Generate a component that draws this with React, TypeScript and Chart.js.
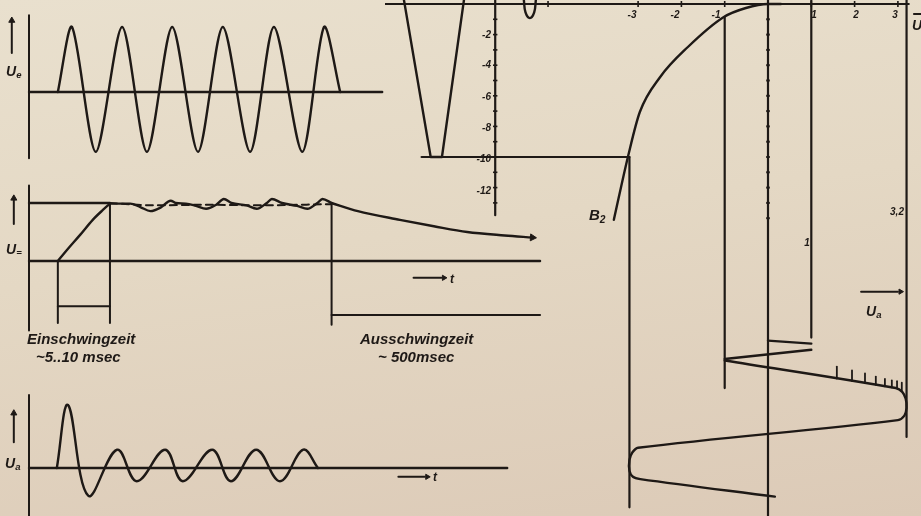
import React, { useEffect, useRef } from "react";
import { Chart, registerables } from "chart.js";

Chart.register(...registerables);

const INK = "#1e1916";

// ---------- Panel 1: input signal U_e (x: time in input periods, y: relative amplitude)
const ueT = [0.57, 0.85, 1.32, 1.84, 2.33, 2.83, 3.34, 3.83, 4.37, 4.84, 5.4, 5.83, 6.15];
const ueV = [0, 1, -0.92, 1, -0.92, 1, -0.92, 1, -0.92, 1, -0.92, 1, 0];
const ueBaseEnd = 6.98;

// ---------- Panel 2: rectified control voltage U_=
const riseT = [0.57, 0.75, 1.01, 1.26, 1.46, 1.6];
const riseV = [0, 0.19, 0.45, 0.71, 0.88, 0.99];
const rippleT = [1.6, 2.0, 2.2, 2.4, 2.6, 2.8, 2.9, 3.1, 3.3, 3.5, 3.7, 3.85, 4.0, 4.3, 4.5, 4.7, 4.8, 5.0, 5.3, 5.5, 5.7, 5.8, 5.98];
const rippleV = [0.99, 0.99, 0.93, 0.86, 0.92, 1.04, 1.0, 0.99, 0.95, 0.9, 0.97, 1.07, 1.0, 0.96, 0.9, 1.0, 1.07, 1.0, 0.95, 0.9, 1.0, 1.07, 1.0];
const meanT = [1.6, 2.5, 3.5, 4.5, 5.98];
const meanV = [1.0, 0.96, 0.97, 0.96, 0.98];
const decayT = [5.98, 6.5, 7.33, 8.0, 8.66, 9.4, 9.95];
const decayV = [1.0, 0.86, 0.71, 0.6, 0.5, 0.44, 0.405];
const settleT = [0.57, 1.6]; // Einschwingzeit
const releaseT = [5.98, 10.1]; // Ausschwingzeit
const zBaseEnd = 10.1;

// ---------- Panel 3: output signal U_a
const uaT = [0.55, 0.77, 1.17, 1.74, 2.13, 2.69, 3.04, 3.62, 3.99, 4.49, 4.96, 5.42, 5.71];
const uaV = [0, 1, -0.44, 0.29, -0.21, 0.29, -0.21, 0.29, -0.21, 0.29, -0.21, 0.29, 0];
const aBaseEnd = 9.45;

// ---------- Right: characteristic (x: U_g / U_a, y: vertical scale)
const gTicksU = [-5.08, -3, -2, -1, 1, 2, 3];
const gTickLabels = ["-3", "-2", "-1", "1", "2", "3"];
const scaleAxisU = -6.3;
const scaleTicksW = [-1, -2, -3, -4, -5, -6, -7, -8, -9, -10, -11, -12, -13];
const scaleLabels = ["-2", "-4", "-6", "-8", "-10", "-12"];
const inputU = [-8.41, -7.79, -7.53, -7.02];
const inputW = [0.3, -10, -10, 0.3];
const dipU = [-5.64, -5.6, -5.5, -5.4, -5.36];
const dipW = [0.3, -0.55, -0.92, -0.55, 0.3];
const levelU = [-8.0, -3.2];
const levelW = -10;
const b2U = [-3.56, -3.23, -2.96, -2.49, -1.85, -1.02, -0.51, 0, 0.3];
const b2W = [-14.1, -9.93, -7.06, -4.77, -2.81, -0.85, -0.26, 0, 0];
const projU = [-3.2, -1, 0, 1, 3.2];
const projTop = [-10, -0.85, 0.3, 0.3, 0.3];
const projBottom = [-32.9, -25.1, -34, -21.8, -28.3];
const originTicksW = [-1, -2, -3, -4, -5, -6, -7, -8, -9, -10, -11, -12, -13, -14];
const out1U = [0, 1];
const out1W = [-22.0, -22.2];
const out2U = [1, -1];
const out2W = [-22.6, -23.2];
const outU = [-1, 2.95, 3.1, 3.18, 3.2, 3.15, 3.0, -3.0, -3.13, -3.2, -3.2, -3.12, -2.95, 0.16];
const outW = [-23.3, -25.1, -25.35, -25.8, -26.4, -26.9, -27.2, -29.0, -29.3, -29.8, -30.5, -30.9, -31.05, -32.2];
const combU = [1.59, 1.94, 2.24, 2.49, 2.7, 2.86, 2.98, 3.09];
const combBase = [-24.48, -24.64, -24.78, -24.89, -24.99, -25.06, -25.12, -25.3];
const combTop = [-23.7, -23.95, -24.15, -24.35, -24.5, -24.6, -24.65, -24.75];

// ---------- helpers
type P = { x: number; y: number };
const pts = (xs: number[], ys: number[]): P[] => xs.map((x, i) => ({ x, y: ys[i] }));
const seg = (x1: number, y1: number, x2: number, y2: number): P[] => [
  { x: x1, y: y1 },
  { x: x2, y: y2 },
];
const line = (data: P[], extra: any = {}) => ({
  data,
  borderColor: INK,
  borderWidth: 2.4,
  pointRadius: 0,
  fill: false,
  tension: 0,
  borderCapStyle: "round",
  borderJoinStyle: "round",
  ...extra,
});
const smooth = (data: P[], extra: any = {}) => line(data, { cubicInterpolationMode: "monotone", ...extra });
const head = (x: number, y: number, rotation: number, r = 4) => ({
  data: [{ x, y }],
  showLine: false,
  pointStyle: "triangle",
  pointRadius: r,
  rotation,
  backgroundColor: INK,
  borderColor: INK,
  borderWidth: 1,
});
const marks = (data: P[], rotation: number, r: number, w = 1.6) => ({
  data,
  showLine: false,
  pointStyle: "line",
  pointRadius: r,
  rotation,
  borderColor: INK,
  borderWidth: w,
});

type Rect = { left: number; top: number; width: number; height: number };

function ChartPanel(props: { rect: Rect; x: [number, number]; y: [number, number]; datasets: any[] }) {
  const ref = useRef<HTMLCanvasElement | null>(null);
  useEffect(() => {
    if (!ref.current) return;
    const chart = new Chart(ref.current, {
      type: "line",
      data: { datasets: props.datasets },
      options: {
        animation: false,
        responsive: false,
        maintainAspectRatio: false,
        events: [],
        layout: { padding: 0, autoPadding: false },
        plugins: { legend: { display: false }, tooltip: { enabled: false } },
        scales: {
          x: { type: "linear", display: false, min: props.x[0], max: props.x[1] },
          y: { type: "linear", display: false, min: props.y[0], max: props.y[1] },
        },
      } as any,
    } as any);
    return () => chart.destroy();
  }, []);
  const r = props.rect;
  return (
    <canvas
      ref={ref}
      width={r.width}
      height={r.height}
      style={{ position: "absolute", left: r.left, top: r.top, width: r.width, height: r.height }}
    />
  );
}

// layout (pixel mapping) for the left time panels
const T0 = 29;
const PX_T = 50.6;
const LEFT_W = 560;
const tRange: [number, number] = [-T0 / PX_T, (LEFT_W - T0) / PX_T];
const vRange = (top: number, h: number, base: number, k: number): [number, number] => [(base - (top + h)) / k, (base - top) / k];

// right panel mapping
const U0 = 768;
const PX_U = 43.3;
const W0 = 4;
const PX_W = 15.3;
const RL = 385;

const font = '"Liberation Sans", Arial, sans-serif';

function Txt(p: { x: number; y: number; size?: number; children: any; align?: "left" | "right" | "center" }) {
  const size = p.size ?? 15;
  const tf = p.align === "right" ? "translate(-100%,-50%)" : p.align === "center" ? "translate(-50%,-50%)" : "translate(0,-50%)";
  return (
    <div
      style={{
        position: "absolute",
        left: p.x,
        top: p.y,
        transform: tf,
        fontFamily: font,
        fontStyle: "italic",
        fontWeight: 700,
        fontSize: size,
        lineHeight: 1,
        color: INK,
        whiteSpace: "nowrap",
      }}
    >
      {p.children}
    </div>
  );
}

const Sub = (p: { children: any }) => (
  <span style={{ fontSize: "0.68em", verticalAlign: "-0.25em" }}>{p.children}</span>
);

export default function App() {
  const p1 = [
    line(pts(ueT, ueV), { tension: 0.28 }),
    line(seg(0, 0, ueBaseEnd, 0)),
    line(seg(0, 1.18, 0, -1.02), { borderWidth: 2 }),
    line(seg(-0.34, 0.6, -0.34, 1.08), { borderWidth: 2 }),
    head(-0.34, 1.1, 0, 3.5),
  ];
  const p2 = [
    smooth(pts(riseT, riseV)),
    smooth(pts(rippleT, rippleV)),
    smooth(pts(meanT, meanV), { borderDash: [7, 5], borderWidth: 2 }),
    smooth(pts(decayT, decayV)),
    head(decayT[decayT.length - 1], decayV[decayV.length - 1], 94, 4),
    line(seg(0, 1.0, riseT[riseT.length - 1], 1.0)),
    line(seg(0, 0, zBaseEnd, 0)),
    line(seg(0, 1.3, 0, -1.2), { borderWidth: 2 }),
    line(seg(settleT[0], 0, settleT[0], -1.07), { borderWidth: 2 }),
    line(seg(settleT[1], 1.0, settleT[1], -1.07), { borderWidth: 2 }),
    line(seg(releaseT[0], 1.0, releaseT[0], -1.1), { borderWidth: 2 }),
    line(seg(settleT[0], -0.78, settleT[1], -0.78), { borderWidth: 2 }),
    line(seg(releaseT[0], -0.93, releaseT[1], -0.93), { borderWidth: 2 }),
    line(seg(7.6, -0.29, 8.15, -0.29), { borderWidth: 2 }),
    head(8.2, -0.29, 90, 3),
    line(seg(-0.3, 0.64, -0.3, 1.06), { borderWidth: 2 }),
    head(-0.3, 1.08, 0, 3.5),
  ];
  const p3 = [
    line(pts(uaT, uaV), { tension: 0.38 }),
    line(seg(0, 0, aBaseEnd, 0)),
    line(seg(0, 1.16, 0, -0.8), { borderWidth: 2 }),
    line(seg(7.3, -0.14, 7.82, -0.14), { borderWidth: 2 }),
    head(7.87, -0.14, 90, 3),
    line(seg(-0.3, 0.41, -0.3, 0.85), { borderWidth: 2 }),
    head(-0.3, 0.87, 0, 3.5),
  ];
  const pr = [
    line(seg(-8.9, 0, 3.25, 0), { borderWidth: 2.2 }),
    marks(gTicksU.map((u) => ({ x: u, y: 0 })), 90, 3),
    line(seg(scaleAxisU, 0.3, scaleAxisU, -13.8), { borderWidth: 2.2 }),
    marks(scaleTicksW.map((w) => ({ x: scaleAxisU, y: w })), 0, 2.2),
    line(pts(inputU, inputW)),
    line(pts(dipU, dipW), { tension: 0.4 }),
    line(seg(levelU[0], levelW, levelU[1], levelW), { borderWidth: 2.2 }),
    smooth(pts(b2U, b2W)),
    ...projU.map((u, i) => line(seg(u, projTop[i], u, projBottom[i]), { borderWidth: 2.2 })),
    marks(originTicksW.map((w) => ({ x: 0, y: w })), 0, 1.8, 2),
    line(pts(out1U, out1W)),
    line(pts(out2U, out2W)),
    line(pts(outU, outW), { tension: 0.35 }),
    ...combU.map((u, i) => line(seg(u, combBase[i], u, combTop[i]), { borderWidth: 1.8 })),
    line(seg(2.15, -18.8, 3.0, -18.8), { borderWidth: 2 }),
    head(3.06, -18.8, 90, 3),
    line(seg(3.37, -0.65, 3.6, -0.65), { borderWidth: 2 }),
  ];

  return (
    <div
      style={{
        position: "absolute",
        left: 0,
        top: 0,
        width: 921,
        height: 516,
        overflow: "hidden",
        background: "linear-gradient(172deg, #e9e0ce 0%, #e4d8c4 45%, #dccab7 100%)",
      }}
    >
      <ChartPanel rect={{ left: 0, top: 0, width: LEFT_W, height: 172 }} x={tRange} y={vRange(0, 172, 92, 65)} datasets={p1} />
      <ChartPanel rect={{ left: 0, top: 172, width: LEFT_W, height: 162 }} x={tRange} y={vRange(172, 162, 261, 58)} datasets={p2} />
      <ChartPanel rect={{ left: 0, top: 386, width: LEFT_W, height: 130 }} x={tRange} y={vRange(386, 130, 468, 63)} datasets={p3} />
      <ChartPanel
        rect={{ left: RL, top: 0, width: 921 - RL, height: 516 }}
        x={[(RL - U0) / PX_U, (921 - U0) / PX_U]}
        y={[(W0 - 516) / PX_W, W0 / PX_W]}
        datasets={pr}
      />

      <Txt x={6} y={72} size={14}>U<Sub>e</Sub></Txt>
      <Txt x={6} y={250} size={14}>U<Sub>=</Sub></Txt>
      <Txt x={5} y={464} size={14}>U<Sub>a</Sub></Txt>
      <Txt x={450} y={279} size={12}>t</Txt>
      <Txt x={433} y={477} size={12}>t</Txt>
      <Txt x={27} y={338}>Einschwingzeit</Txt>
      <Txt x={36} y={356}>~5..10 msec</Txt>
      <Txt x={360} y={338}>Ausschwingzeit</Txt>
      <Txt x={378} y={356}>~ 500msec</Txt>

      {gTickLabels.map((s, i) => (
        <Txt key={s} x={[632, 675, 716, 814, 856, 895][i]} y={15} size={10} align="center">{s}</Txt>
      ))}
      {scaleLabels.map((s, i) => (
        <Txt key={s} x={491} y={[35, 65, 97, 128, 159, 191][i]} size={10} align="right">{s}</Txt>
      ))}
      <Txt x={589} y={216} size={15}>B<Sub>2</Sub></Txt>
      <Txt x={807} y={243} size={10} align="center">1</Txt>
      <Txt x={897} y={212} size={10} align="center">3,2</Txt>
      <Txt x={866} y={312} size={14}>U<Sub>a</Sub></Txt>
      <Txt x={912} y={25} size={14}>U</Txt>
    </div>
  );
}
